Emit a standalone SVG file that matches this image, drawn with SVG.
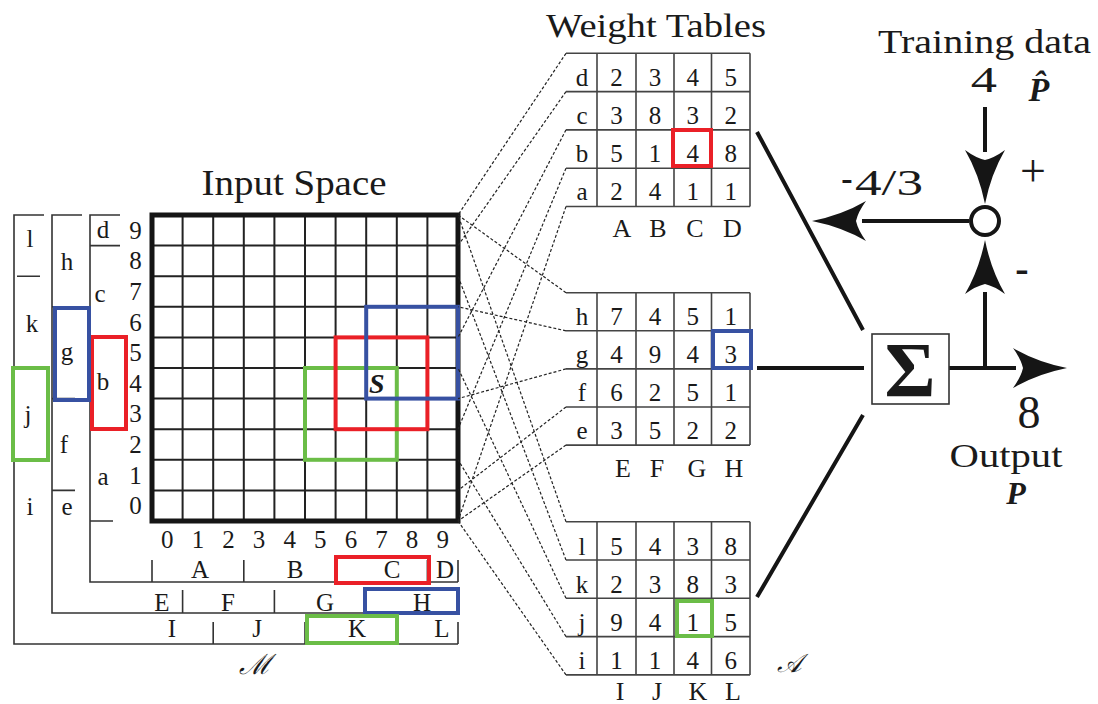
<svg xmlns="http://www.w3.org/2000/svg" xmlns:xlink="http://www.w3.org/1999/xlink" width="1098" height="704" viewBox="0 0 1098 704">
<defs>
<style>
text{font-family:"Liberation Serif","DejaVu Serif",serif;fill:#1a1a1a}
.s25{font-size:25px}
.s26{font-size:26px}
.mid{text-anchor:middle}
.bar{fill:none;stroke:#333;stroke-width:1.6}
.tbl{fill:none;stroke:#444;stroke-width:1.6}
.gridin{fill:none;stroke:#222;stroke-width:2}
.gridout{fill:none;stroke:#151515;stroke-width:5}
.red{fill:none;stroke:#ea2027;stroke-width:4}
.blue{fill:none;stroke:#3751a2;stroke-width:4}
.green{fill:none;stroke:#6bbd47;stroke-width:4}
.dash{fill:none;stroke:#222;stroke-width:1.2;stroke-dasharray:3 2}
.heavy{fill:none;stroke:#151515;stroke-width:4}
.bi{font-weight:bold;font-style:italic}
</style>
<path id="ah" d="M0,0 Q-30,-6 -54,-20 Q-46,-9 -44,0 Q-46,9 -54,20 Q-30,6 0,0Z" fill="#151515"/>
</defs>
<rect width="1098" height="704" fill="#fff"/>

<g id="input-space">
<text class="mid" x="294" y="195" font-size="35" textLength="185" lengthAdjust="spacingAndGlyphs">Input Space</text>
<path class="gridin" d="M182.6,215V521M213.2,215V521M243.8,215V521M274.4,215V521M305,215V521M335.6,215V521M366.2,215V521M396.8,215V521M427.4,215V521M152,245.6H458M152,276.2H458M152,306.8H458M152,337.4H458M152,368H458M152,398.6H458M152,429.2H458M152,459.8H458M152,490.4H458"/>
<rect class="gridout" x="152" y="215" width="306" height="306"/>
<rect class="green" x="305" y="368" width="91.8" height="91.8"/>
<rect class="red" x="335.6" y="337.4" width="91.8" height="91.8"/>
<rect class="blue" x="366.2" y="306.8" width="91.8" height="91.8"/>
<text class="bi" x="369" y="393" font-size="28">S</text>
<g class="s25 mid">
<text x="135.5" y="238.8">9</text><text x="135.5" y="269.4">8</text><text x="135.5" y="300">7</text><text x="135.5" y="330.6">6</text><text x="135.5" y="361.2">5</text><text x="135.5" y="391.8">4</text><text x="135.5" y="422.4">3</text><text x="135.5" y="453">2</text><text x="135.5" y="483.6">1</text><text x="135.5" y="514.2">0</text>
<text x="167.3" y="548">0</text><text x="197.9" y="548">1</text><text x="228.5" y="548">2</text><text x="259.1" y="548">3</text><text x="289.7" y="548">4</text><text x="320.3" y="548">5</text><text x="350.9" y="548">6</text><text x="381.5" y="548">7</text><text x="412.1" y="548">8</text><text x="442.7" y="548">9</text>
</g>
</g>

<g id="tiling-abcd">
<path class="bar" d="M120,215H90V582H458M90,245.6H120M90,337.4H113M90,429.2H113M90,521H113M152,560V582M243.8,560V582M335.6,560V582M427.4,560V582M458,560V582"/>
<rect class="red" x="92" y="337" width="34" height="92"/>
<rect class="red" x="336" y="557" width="93" height="26"/>
<g class="s25 mid">
<text x="103" y="238">d</text><text x="100" y="301.7">c</text><text x="103" y="390">b</text><text x="103" y="485">a</text>
<text x="200" y="578">A</text><text x="295" y="578">B</text><text x="392" y="578">C</text><text x="445" y="578">D</text>
</g>
</g>

<g id="tiling-efgh">
<path class="bar" d="M82,215H52V613H458M52,306.8H75M52,398.6H75M52,490.4H75M182.6,590V613M274.4,590V613M366.2,590V613M458,590V613"/>
<rect class="blue" x="55" y="308" width="34" height="92"/>
<rect class="blue" x="365" y="589" width="93" height="24"/>
<g class="s25 mid">
<text x="67" y="270">h</text><text x="67" y="360">g</text><text x="64" y="453">f</text><text x="67" y="515">e</text>
<text x="162" y="611">E</text><text x="228" y="611">F</text><text x="325" y="611">G</text><text x="422" y="611">H</text>
</g>
</g>

<g id="tiling-ijkl">
<path class="bar" d="M44,215H14V644H458M17,276.2H40M14,368H40M14,459.8H40M213.2,622V644M305,622V644M458,622V644"/>
<rect class="green" x="13" y="368" width="35" height="92"/>
<rect class="green" x="307" y="616" width="90" height="27"/>
<g class="s25 mid">
<text x="30" y="246.7">l</text><text x="32" y="331.7">k</text><text x="28" y="423">j</text><text x="30" y="515">i</text>
<text x="172" y="637">I</text><text x="257" y="637">J</text><text x="357" y="637">K</text><text x="442" y="637">L</text>
</g>
<text class="mid" x="255" y="674" font-size="28" font-style="italic" font-family="DejaVu Serif, Liberation Serif, serif">ℳ</text>
</g>

<g id="connectors">
<path class="dash" d="M566,53.3L458,215M566,91.6L458,245.6M566,129.9L458,337.4M566,168.2L458,429.2M566,206.5L458,521"/>
<path class="dash" d="M566,292.7L458,215M566,330.8L458,306.8M566,368.9L458,398.6M566,407L458,490.4M566,445.1L458,521"/>
<path class="dash" d="M566,521.7L458,215M566,560L458,276.2M566,598.3L458,368M566,636.6L458,459.8M566,674.9L458,521"/>
<path class="heavy" d="M757,132L863,330M757,368H864M863,415L757,597M949,368H1016M985,368V292M985,107V152M969,221H862"/>
<use xlink:href="#ah" href="#ah" transform="translate(1067,368)"/>
<use xlink:href="#ah" href="#ah" transform="translate(985,240) rotate(-90)"/>
<use xlink:href="#ah" href="#ah" transform="translate(985,204) rotate(90)"/>
<use xlink:href="#ah" href="#ah" transform="translate(812,221) rotate(180)"/>
</g>

<g id="weight-tables">
<text class="mid" x="656" y="37" font-size="34" textLength="220" lengthAdjust="spacingAndGlyphs">Weight Tables</text>
</g>

<g id="table-abcd">
<path class="tbl" d="M566,53.3H750M566,91.6H750M566,129.9H750M566,168.2H750M566,206.5H750M597,53.3V206.5M636,53.3V206.5M674,53.3V206.5M711.5,53.3V206.5M750,53.3V206.5"/>
<rect class="red" x="673" y="130" width="38" height="36"/>
<g class="s25 mid">
<text x="582" y="85.5">d</text><text x="616.5" y="85.5">2</text><text x="655" y="85.5">3</text><text x="692.7" y="85.5">4</text><text x="730.7" y="85.5">5</text>
<text x="582" y="123.8">c</text><text x="616.5" y="123.8">3</text><text x="655" y="123.8">8</text><text x="692.7" y="123.8">3</text><text x="730.7" y="123.8">2</text>
<text x="582" y="162.1">b</text><text x="616.5" y="162.1">5</text><text x="655" y="162.1">1</text><text x="692.7" y="162.1">4</text><text x="730.7" y="162.1">8</text>
<text x="582" y="200.4">a</text><text x="616.5" y="200.4">2</text><text x="655" y="200.4">4</text><text x="692.7" y="200.4">1</text><text x="730.7" y="200.4">1</text>
</g>
<g class="s26 mid">
<text x="622" y="237">A</text><text x="658" y="237">B</text><text x="695" y="237">C</text><text x="732.5" y="237">D</text>
</g>
</g>

<g id="table-efgh">
<path class="tbl" d="M566,292.7H750M566,330.8H750M566,368.9H750M566,407H750M566,445.1H750M597,292.7V445.1M636,292.7V445.1M674,292.7V445.1M711.5,292.7V445.1M750,292.7V445.1"/>
<rect class="blue" x="713" y="331" width="38" height="37"/>
<g class="s25 mid">
<text x="582" y="324.5">h</text><text x="616.5" y="324.5">7</text><text x="655" y="324.5">4</text><text x="692.7" y="324.5">5</text><text x="730.7" y="324.5">1</text>
<text x="582" y="362.6">g</text><text x="616.5" y="362.6">4</text><text x="655" y="362.6">9</text><text x="692.7" y="362.6">4</text><text x="730.7" y="362.6">3</text>
<text x="582" y="400.7">f</text><text x="616.5" y="400.7">6</text><text x="655" y="400.7">2</text><text x="692.7" y="400.7">5</text><text x="730.7" y="400.7">1</text>
<text x="582" y="438.8">e</text><text x="616.5" y="438.8">3</text><text x="655" y="438.8">5</text><text x="692.7" y="438.8">2</text><text x="730.7" y="438.8">2</text>
</g>
<g class="s26 mid">
<text x="623" y="477">E</text><text x="657" y="477">F</text><text x="697" y="477">G</text><text x="734" y="477">H</text>
</g>
</g>

<g id="table-ijkl">
<path class="tbl" d="M566,521.7H750M566,560H750M566,598.3H750M566,636.6H750M566,674.9H750M597,521.7V674.9M636,521.7V674.9M674,521.7V674.9M711.5,521.7V674.9M750,521.7V674.9"/>
<rect class="green" x="677" y="601" width="35" height="35"/>
<g class="s25 mid">
<text x="582" y="554.5">l</text><text x="616.5" y="554.5">5</text><text x="655" y="554.5">4</text><text x="692.7" y="554.5">3</text><text x="730.7" y="554.5">8</text>
<text x="582" y="592.8">k</text><text x="616.5" y="592.8">2</text><text x="655" y="592.8">3</text><text x="692.7" y="592.8">8</text><text x="730.7" y="592.8">3</text>
<text x="582" y="631.1">j</text><text x="616.5" y="631.1">9</text><text x="655" y="631.1">4</text><text x="692.7" y="631.1">1</text><text x="730.7" y="631.1">5</text>
<text x="582" y="669.4">i</text><text x="616.5" y="669.4">1</text><text x="655" y="669.4">1</text><text x="692.7" y="669.4">4</text><text x="730.7" y="669.4">6</text>
</g>
<g class="s26 mid">
<text x="620" y="700">I</text><text x="657" y="700">J</text><text x="698" y="700">K</text><text x="733" y="700">L</text>
</g>
<text class="mid" x="789" y="672" font-size="26" font-style="italic" font-family="DejaVu Serif, Liberation Serif, serif">𝒜</text>
</g>

<g id="sum-node">
<rect x="872" y="334" width="77" height="70" fill="#fff" stroke="#333" stroke-width="1.6"/>
<text class="mid" x="910" y="396" font-size="78" font-weight="bold">Σ</text>
</g>

<g id="compare-node">
<circle cx="985" cy="221" r="14" fill="#fff" stroke="#151515" stroke-width="4"/>
<text class="mid" x="1033" y="186" font-size="46">+</text>
<text class="mid" x="1022" y="282" font-size="40" font-weight="bold">-</text>
</g>

<g id="labels">
<text x="878" y="53" font-size="34" textLength="213" lengthAdjust="spacingAndGlyphs">Training data</text>
<text class="mid" font-size="35" transform="translate(984,92) scale(1.5,1)">4</text>
<text class="mid bi" x="1039" y="101" font-size="34">P̂</text>
<text class="mid" x="847" y="190" font-size="34" font-weight="bold">-</text>
<text x="855" y="195" font-size="35" textLength="68" lengthAdjust="spacingAndGlyphs">4/3</text>
<text class="mid" x="1029" y="428" font-size="46">8</text>
<text class="mid" x="1006" y="467" font-size="34" textLength="113" lengthAdjust="spacingAndGlyphs">Output</text>
<text class="mid bi" x="1016" y="504" font-size="32">P</text>
</g>
</svg>
